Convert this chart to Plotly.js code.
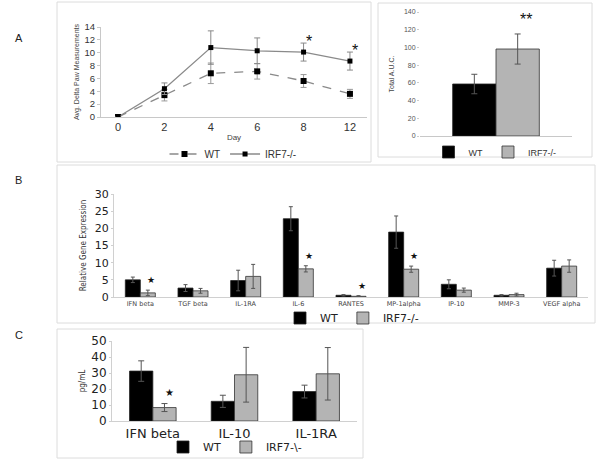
<!DOCTYPE html>
<html><head><meta charset="utf-8">
<script src="https://cdn.plot.ly/plotly-3.0.1.min.js"></script>
<style>html,body{margin:0;padding:0;background:#fff}#chart{width:602px;height:465px}</style>
</head><body><div id="chart"></div>
<script>
// Panel A (line): paw measurements by day
const days = ['0','2','4','6','8','12'];
const wtPaw = [0, 3.4, 6.8, 7.1, 5.6, 3.6];
const wtPawErr = [0, 0.9, 1.6, 1.2, 1.0, 0.7];
const koPaw = [0, 4.4, 10.8, 10.3, 10.1, 8.7];
const koPawErr = [0, 0.9, 2.6, 2.0, 1.4, 1.4];
const pawStarDays = ['8','12'];
// Panel A (bar): total AUC
const aucGroup = [''];
const wtAuc = [58.7];
const wtAucErr = [11];
const koAuc = [98.2];
const koAucErr = [17];
// Panel B: relative gene expression
const genes = ['IFN beta','TGF beta','IL-1RA','IL-6','RANTES','MP-1alpha','IP-10','MMP-3','VEGF alpha'];
const wtGene = [5.0, 2.6, 4.8, 22.8, 0.5, 18.9, 3.7, 0.5, 8.4];
const wtGeneErr = [0.8, 1.0, 3.0, 3.5, 0.2, 4.7, 1.3, 0.2, 2.3];
const koGene = [1.2, 1.8, 6.0, 8.2, 0.2, 8.1, 2.0, 0.7, 9.0];
const koGeneErr = [0.8, 0.7, 3.5, 0.9, 0.2, 0.9, 0.6, 0.4, 1.8];
const geneStars = ['IFN beta','IL-6','RANTES','MP-1alpha'];
// Panel C: protein pg/mL
const proteins = ['IFN beta','IL-10','IL-1RA'];
const wtProt = [31.2, 12.3, 18.4];
const wtProtErr = [6.4, 3.8, 4.0];
const koProt = [8.4, 28.9, 29.5];
const koProtErr = [2.5, 17.1, 16.4];
const protStars = ['IFN beta'];

const W = 602, H = 465;
const px = v => v / W;
const py = v => 1 - v / H;
const dom = (a, b) => [px(a), px(b)];
const vdom = (top, bot) => [py(bot), py(top)];

const BLACK = '#000000', GRAY = '#b4b4b4', ERR = '#555555';
const fA = 'Liberation Sans, Arial, sans-serif';
const fB = 'DejaVu Sans, Verdana, sans-serif';

const errY = (arr, col, w, th) => ({type:'data', array:arr, visible:true, color:col, thickness:th||1, width:w});

const traces = [
  {x: days, y: wtPaw, name: 'WT', type:'scatter', mode:'lines+markers', xaxis:'x', yaxis:'y',
   line:{color:'#8a8a8a', width:1.3, dash:'dash'}, marker:{symbol:'square', size:6, color:BLACK},
   error_y: errY(wtPawErr, '#999', 3), legend:'legend'},
  {x: days, y: koPaw, name: 'IRF7-/-', type:'scatter', mode:'lines+markers', xaxis:'x', yaxis:'y',
   line:{color:'#8a8a8a', width:1.3}, marker:{symbol:'square', size:5, color:BLACK},
   error_y: errY(koPawErr, '#888', 3), legend:'legend'},

  {x: aucGroup, y: wtAuc, name:'WT', type:'bar', xaxis:'x2', yaxis:'y2',
   marker:{color:BLACK, line:{color:'#222', width:0.8}}, error_y: errY(wtAucErr, ERR, 3), legend:'legend2'},
  {x: aucGroup, y: koAuc, name:'IRF7-/-', type:'bar', xaxis:'x2', yaxis:'y2',
   marker:{color:GRAY, line:{color:'#333', width:0.8}}, error_y: errY(koAucErr, ERR, 3), legend:'legend2'},

  {x: genes, y: wtGene, name:'WT', type:'bar', xaxis:'x3', yaxis:'y3',
   marker:{color:BLACK, line:{color:'#222', width:0.8}}, error_y: errY(wtGeneErr, ERR, 2), legend:'legend3'},
  {x: genes, y: koGene, name:'IRF7-/-', type:'bar', xaxis:'x3', yaxis:'y3',
   marker:{color:GRAY, line:{color:'#333', width:0.8}}, error_y: errY(koGeneErr, ERR, 2), legend:'legend3'},

  {x: proteins, y: wtProt, name:'WT', type:'bar', xaxis:'x4', yaxis:'y4',
   marker:{color:BLACK, line:{color:'#222', width:0.8}}, error_y: errY(wtProtErr, ERR, 3), legend:'legend4'},
  {x: proteins, y: koProt, name:'IRF7-\\-', type:'bar', xaxis:'x4', yaxis:'y4',
   marker:{color:GRAY, line:{color:'#333', width:0.8}}, error_y: errY(koProtErr, ERR, 3), legend:'legend4'}
];

const annotations = [];
const panelLabel = (t, x, y) => annotations.push({text:t, xref:'paper', yref:'paper', x:px(x), y:py(y),
  showarrow:false, font:{family:fA, size:11, color:'#222'}});
panelLabel('A', 13, 30); panelLabel('B', 13, 180); panelLabel('C', 13, 343);

pawStarDays.forEach(d => {
  const i = days.indexOf(d);
  annotations.push({text:'*', x:i, y:koPaw[i] + koPawErr[i], xref:'x', yref:'y', xshift:5, yshift:-9,
    yanchor:'bottom', showarrow:false, font:{family:fA, size:16, color:'#111'}});
});
annotations.push({text:'**', x:0.2, y:koAuc[0] + koAucErr[0], xref:'x2', yref:'y2', yshift:4,
  yanchor:'bottom', showarrow:false, font:{family:fA, size:16, color:'#111'}});
geneStars.forEach(g => {
  const i = genes.indexOf(g);
  annotations.push({text:'★', x:i + 0.2, y:koGene[i] + koGeneErr[i], xref:'x3', yref:'y3', yshift:3,
    yanchor:'bottom', showarrow:false, font:{family:fB, size:9, color:'#111'}});
});
protStars.forEach(g => {
  const i = proteins.indexOf(g);
  annotations.push({text:'★', x:i + 0.2, y:koProt[i] + koProtErr[i], xref:'x4', yref:'y4', yshift:4,
    yanchor:'bottom', showarrow:false, font:{family:fB, size:10, color:'#111'}});
});

const frame = (x0, y0, x1, y1) => ({type:'rect', xref:'paper', yref:'paper', x0:px(x0), x1:px(x1), y0:py(y1), y1:py(y0),
  line:{color:'#dcdcdc', width:1}, layer:'below'});

const baseAx = {showgrid:false, zeroline:false, showline:true, linecolor:'#c8c8c8', linewidth:1, fixedrange:true};

const layout = {
  width: W, height: H, margin:{l:0, r:0, t:0, b:0}, paper_bgcolor:'#fff', plot_bgcolor:'rgba(0,0,0,0)',
  font:{family:fA, color:'#333'},
  barmode:'group',
  xaxis: Object.assign({}, baseAx, {domain:dom(101, 367), anchor:'y', type:'category', ticks:'', tickfont:{family:fA, size:11, color:'#333'},
    title:{text:'Day', font:{family:fA, size:8, color:'#444'}, standoff:2}}),
  yaxis: Object.assign({}, baseAx, {domain:vdom(27, 117), anchor:'x', range:[0,14], dtick:2, ticks:'outside', ticklen:3, tickcolor:'#c8c8c8',
    tickfont:{family:fA, size:9.5, color:'#333'}, title:{text:'Avg. Delta Paw Measurements', font:{family:fA, size:7, color:'#444'}, standoff:4}}),
  xaxis2: Object.assign({}, baseAx, {domain:dom(420, 572), anchor:'y2', type:'category', showticklabels:false, ticks:''}),
  yaxis2: Object.assign({}, baseAx, {domain:vdom(12, 136), anchor:'x2', range:[0,140], dtick:20, showline:false, ticks:'outside', ticklen:2, tickcolor:'#ccc',
    tickfont:{family:fA, size:7, color:'#555'}, title:{text:'Total A.U.C.', font:{family:fA, size:7, color:'#444'}, standoff:8}}),
  bargap: 0.43,
  xaxis3: Object.assign({}, baseAx, {domain:dom(114, 588), anchor:'y3', type:'category', ticks:'', linecolor:'#d0d0d0',
    tickfont:{family:fB, size:6.5, color:'#444'}}),
  yaxis3: Object.assign({}, baseAx, {domain:vdom(194, 297), anchor:'x3', range:[0,30], dtick:5, linecolor:'#d0d0d0', ticks:'outside', ticklen:2, tickcolor:'#d0d0d0',
    tickfont:{family:fB, size:11, color:'#222'}, title:{text:'Relative Gene Expression', font:{family:'DejaVu Sans Condensed, DejaVu Sans', size:8, color:'#333'}, standoff:6}}),
  xaxis4: Object.assign({}, baseAx, {domain:dom(112, 357), anchor:'y4', type:'category', ticks:'', linecolor:'#d0d0d0',
    tickfont:{family:fB, size:13, color:'#222'}}),
  yaxis4: Object.assign({}, baseAx, {domain:vdom(341, 421), anchor:'x4', range:[0,50], dtick:10, linecolor:'#d0d0d0', ticks:'outside', ticklen:2, tickcolor:'#d0d0d0',
    tickfont:{family:fB, size:12, color:'#222'}, title:{text:'pg/mL', font:{family:'DejaVu Sans Condensed, DejaVu Sans', size:8, color:'#333'}, standoff:4}}),
  legend: {orientation:'h', x:px(233), xanchor:'center', y:py(154), yanchor:'middle', font:{family:fA, size:10, color:'#333'}, itemwidth:30, bgcolor:'rgba(0,0,0,0)', tracegroupgap:0},
  legend2: {orientation:'h', x:px(495), xanchor:'center', y:py(152), yanchor:'middle', font:{family:fA, size:9, color:'#333'}, itemwidth:30, bgcolor:'rgba(0,0,0,0)'},
  legend3: {orientation:'h', x:px(352), xanchor:'center', y:py(318), yanchor:'middle', font:{family:fB, size:11, color:'#222'}, itemwidth:30, bgcolor:'rgba(0,0,0,0)'},
  legend4: {orientation:'h', x:px(235), xanchor:'center', y:py(447), yanchor:'middle', font:{family:fB, size:11, color:'#222'}, itemwidth:30, bgcolor:'rgba(0,0,0,0)'},
  shapes: [frame(57, 2, 371, 162), frame(378, 3, 592, 157), frame(57, 165, 595, 323), frame(57, 329, 363, 458)],
  annotations: annotations
};

Plotly.newPlot('chart', traces, layout, {displayModeBar:false, staticPlot:true});
</script></body></html>
